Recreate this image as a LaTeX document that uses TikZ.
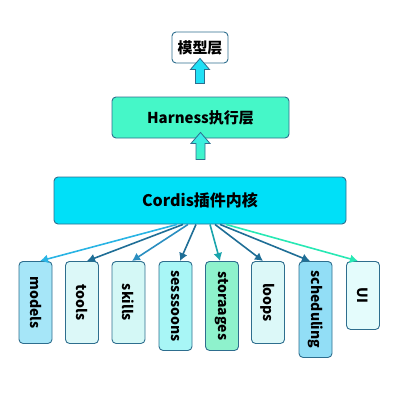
\documentclass[tikz,border=0pt]{standalone}
\usepackage{fontspec}
\setmainfont{Noto Sans CJK SC}
\usetikzlibrary{arrows.meta}
\definecolor{edge}{HTML}{2E6E8E}
\definecolor{harnessfill}{HTML}{45F7C8}
\definecolor{corefill}{HTML}{00E0F8}
\definecolor{upfill}{HTML}{20E0F5}
\definecolor{uptop}{HTML}{38ECEC}
\definecolor{upbottom}{HTML}{40F5C4}
\definecolor{modelsfill}{HTML}{A6E6F8}
\definecolor{toolsfill}{HTML}{DCF8F8}
\definecolor{skillsfill}{HTML}{D4F8F6}
\definecolor{sessionsfill}{HTML}{A8F6F6}
\definecolor{storagesfill}{HTML}{8EF2CC}
\definecolor{loopsfill}{HTML}{DCF8F8}
\definecolor{schedfill}{HTML}{92DEF6}
\definecolor{uifill}{HTML}{E4FCFC}
\definecolor{darkarrow}{HTML}{1F6E96}
\definecolor{lightarrow}{HTML}{2AB4E4}
\definecolor{midarrow}{HTML}{2A8EC0}
\definecolor{tealarrow}{HTML}{1AA4AC}
\definecolor{greenarrow}{HTML}{28E8B4}
\begin{document}
\begin{tikzpicture}
[   x=1pt, y=-1pt,
    layer/.style={draw=edge, line width=0.9pt, rounded corners=4pt, fill=#1, font=\bfseries},
    leaf/.style={draw=edge, line width=0.9pt, rounded corners=4pt, fill=#1, rotate=-90, anchor=west,
                 minimum height=33pt, inner sep=0pt, font=\bfseries\fontsize{14}{16}\selectfont},
    link/.style={draw=#1, line width=1.6pt, -{Latex[length=8pt,width=9pt]}},
    blockarrow/.style={draw=edge, line width=0.8pt},
]
\useasboundingbox (0,0) rectangle (400,400);

\node[layer=white, minimum width=56pt, minimum height=31pt, font=\bfseries\fontsize{15}{18}\selectfont] (model) at (200,47.5) {模型层};
\node[layer=harnessfill, minimum width=177pt, minimum height=41pt, font=\bfseries\fontsize{15}{18}\selectfont] (harness) at (200.5,117.5) {Harness执行层};
\node[layer=corefill, minimum width=292pt, minimum height=47pt, font=\bfseries\fontsize{16}{19}\selectfont] (core) at (200,200.5) {Cordis插件内核};

% block arrows between the layers
\draw[blockarrow, fill=upfill] ([yshift=5]model.south) -- ++(9.5,11) -- ++(-5,0) -- ++(0,14) -- ++(-9,0) -- ++(0,-14) -- ++(-5,0) -- cycle;
\draw[blockarrow, top color=uptop, bottom color=upbottom] ([yshift=6]harness.south) -- ++(9.5,11) -- ++(-5,0) -- ++(0,16) -- ++(-9,0) -- ++(0,-16) -- ++(-5,0) -- cycle;

% plugin modules
\node[leaf=modelsfill, minimum width=82pt] (models) at (35.5,261) {models};
\node[leaf=toolsfill, minimum width=82pt] (tools) at (82,261) {tools};
\node[leaf=skillsfill, minimum width=82pt] (skills) at (128.5,261) {skills};
\node[leaf=sessionsfill, minimum width=89pt] (sessions) at (175.5,261) {sesssoons};
\node[leaf=storagesfill, minimum width=89pt] (storages) at (222,261) {storaages};
\node[leaf=loopsfill, minimum width=82pt] (loops) at (268,261) {loops};
\node[leaf=schedfill, minimum width=96pt] (scheduling) at (315.5,261) {scheduling};
\node[leaf=uifill, minimum width=68pt] (ui) at (363,261) {UI};

\draw[link=lightarrow] ([xshift=-23]core.south) -- ([xshift=4.5]models.west);
\draw[link=darkarrow] ([xshift=-17]core.south) -- ([xshift=5]tools.west);
\draw[link=midarrow] ([xshift=-12]core.south) -- ([xshift=3.5]skills.west);
\draw[link=darkarrow] ([xshift=-4]core.south) -- ([xshift=4.5]sessions.west);
\draw[link=tealarrow] ([xshift=10]core.south) -- ([xshift=-2]storages.west);
\draw[link=darkarrow] ([xshift=15]core.south) -- ([xshift=-5]loops.west);
\draw[link=darkarrow] ([xshift=20]core.south) -- ([xshift=-5.5]scheduling.west);
\draw[link=greenarrow] ([xshift=26]core.south) -- ([xshift=-5]ui.west);

\end{tikzpicture}
\end{document}
